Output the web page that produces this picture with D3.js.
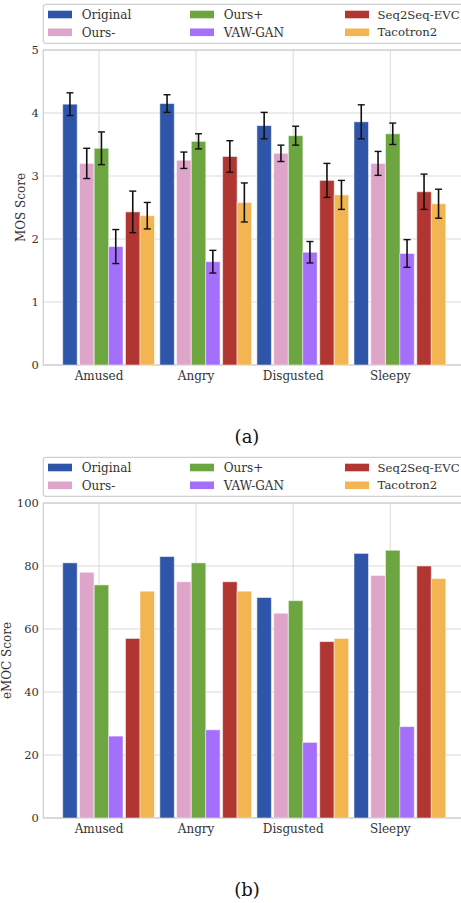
<!DOCTYPE html>
<html>
<head>
<meta charset="utf-8">
<script src="https://cdn.jsdelivr.net/npm/d3@7"></script>
<style>
  body { margin: 0; background: white; }
  svg { display: block; }
  text { font-family: "DejaVu Serif", serif; fill: #333; }
</style>
</head>
<body>
<div id="viz-container"></div>
<script>
let w = 461;
let h = 903;

// categories and systems
const categories = ["Amused", "Angry", "Disgusted", "Sleepy"];
const systems = ["Original", "Ours-", "Ours+", "VAW-GAN", "Seq2Seq-EVC", "Tacotron2"];
const colors = ["#2f55a8", "#dfa4c9", "#6da641", "#a46ffb", "#b13531", "#f2b551"];

// MOS means, one array per system (order = categories)
const mosOriginal = [4.14, 4.15, 3.80, 3.86];
const mosOursMinus = [3.20, 3.25, 3.36, 3.20];
const mosOursPlus = [3.44, 3.55, 3.64, 3.67];
const mosVawGan = [1.88, 1.64, 1.79, 1.77];
const mosSeq2Seq = [2.43, 3.31, 2.93, 2.75];
const mosTacotron = [2.37, 2.58, 2.70, 2.56];

// MOS error (half width of the bars)
const errOriginal = [0.18, 0.14, 0.21, 0.27];
const errOursMinus = [0.24, 0.13, 0.13, 0.19];
const errOursPlus = [0.26, 0.12, 0.15, 0.17];
const errVawGan = [0.27, 0.18, 0.17, 0.22];
const errSeq2Seq = [0.33, 0.25, 0.27, 0.28];
const errTacotron = [0.21, 0.31, 0.23, 0.23];

// eMOC scores
const emocOriginal = [81, 83, 70, 84];
const emocOursMinus = [78, 75, 65, 77];
const emocOursPlus = [74, 81, 69, 85];
const emocVawGan = [26, 28, 24, 29];
const emocSeq2Seq = [57, 75, 56, 80];
const emocTacotron = [72, 72, 57, 76];

const mosTicks = [0, 1, 2, 3, 4, 5];
const emocTicks = [0, 20, 40, 60, 80, 100];

const mosSeries = [mosOriginal, mosOursMinus, mosOursPlus, mosVawGan, mosSeq2Seq, mosTacotron];
const mosErrors = [errOriginal, errOursMinus, errOursPlus, errVawGan, errSeq2Seq, errTacotron];
const emocSeries = [emocOriginal, emocOursMinus, emocOursPlus, emocVawGan, emocSeq2Seq, emocTacotron];

// layout: bar offsets from category center (px) and bar width
let barOffsets = [-36.3, -19.5, -4.8, 9.5, 26.5, 41];
let barW = 14.5;

let viz = d3.select("#viz-container")
  .append("svg")
    .attr("width", w)
    .attr("height", h)
    .style("background-color", "white");

let x = d3.scalePoint()
  .domain(categories)
  .range([99, 390.3]);

function drawChart(top, series, errors, ticks, yMax, yLabel, yLabelX, caption){
  let g = viz.append("g").attr("transform", "translate(0," + top + ")");
  let left = 43.3, right = 475;
  let plotTop = 50, plotBottom = 365;

  let y = d3.scaleLinear().domain([0, yMax]).range([plotBottom, plotTop]);

  // grid
  g.selectAll(".ygrid").data(ticks).enter()
    .append("line")
      .attr("x1", left).attr("x2", right)
      .attr("y1", d => y(d)).attr("y2", d => y(d))
      .attr("stroke", "#d9d9d9").attr("stroke-width", 1);
  g.selectAll(".xgrid").data(categories).enter()
    .append("line")
      .attr("x1", d => x(d)).attr("x2", d => x(d))
      .attr("y1", plotTop).attr("y2", plotBottom)
      .attr("stroke", "#d9d9d9").attr("stroke-width", 1);

  // spines
  g.append("rect")
    .attr("x", left).attr("y", plotTop)
    .attr("width", right - left).attr("height", plotBottom - plotTop)
    .attr("fill", "none").attr("stroke", "#d0d0d0").attr("stroke-width", 1.3);

  // bars
  series.forEach(function(vals, s){
    let sg = g.append("g");
    sg.selectAll("rect").data(vals).enter()
      .append("rect")
        .attr("x", (d, i) => x(categories[i]) + barOffsets[s])
        .attr("y", d => y(d))
        .attr("width", barW)
        .attr("height", d => y(0) - y(d))
        .attr("fill", colors[s])
        .attr("stroke", "white")
        .attr("stroke-opacity", 0.5)
        .attr("stroke-width", 1);

    if (errors){
      let e = errors[s];
      let eg = sg.selectAll(".err").data(vals).enter().append("g");
      let cx = (d, i) => x(categories[i]) + barOffsets[s] + barW / 2;
      eg.append("line")
        .attr("x1", cx).attr("x2", cx)
        .attr("y1", (d, i) => y(d + e[i])).attr("y2", (d, i) => y(d - e[i]))
        .attr("stroke", "#111").attr("stroke-width", 1.6);
      eg.append("line")
        .attr("x1", (d, i) => cx(d, i) - 3.5).attr("x2", (d, i) => cx(d, i) + 3.5)
        .attr("y1", (d, i) => y(d + e[i])).attr("y2", (d, i) => y(d + e[i]))
        .attr("stroke", "#111").attr("stroke-width", 1.4);
      eg.append("line")
        .attr("x1", (d, i) => cx(d, i) - 3.5).attr("x2", (d, i) => cx(d, i) + 3.5)
        .attr("y1", (d, i) => y(d - e[i])).attr("y2", (d, i) => y(d - e[i]))
        .attr("stroke", "#111").attr("stroke-width", 1.4);
    }
  });

  // y ticks
  g.selectAll(".ytick").data(ticks).enter()
    .append("text")
      .attr("x", left - 4.5)
      .attr("y", d => y(d))
      .attr("dy", "0.35em")
      .attr("text-anchor", "end")
      .style("font-size", "11.5px")
      .text(d => d);

  // x ticks
  g.selectAll(".xtick").data(categories).enter()
    .append("text")
      .attr("x", d => x(d))
      .attr("y", plotBottom + 14.5)
      .attr("text-anchor", "middle")
      .style("font-size", "12px")
      .text(d => d);

  // y label
  g.append("text")
    .attr("transform", "translate(" + yLabelX + "," + ((plotTop + plotBottom) / 2) + ") rotate(-90)")
    .attr("dy", "0.35em")
    .attr("text-anchor", "middle")
    .style("font-size", "12px")
    .text(yLabel);

  // legend
  g.append("rect")
    .attr("x", left).attr("y", 4.3)
    .attr("width", 440).attr("height", 39)
    .attr("rx", 2.5)
    .attr("fill", "white").attr("stroke", "#d0d0d0").attr("stroke-width", 1.2);
  let colX = [48, 190, 345];
  let rowY = [14.5, 32.3];
  let items = g.selectAll(".legenditem").data(systems).enter()
    .append("g")
      .attr("transform", (d, i) => "translate(" + colX[Math.floor(i / 2)] + "," + rowY[i % 2] + ")");
  items.append("rect")
    .attr("x", 0).attr("y", -3.8)
    .attr("width", 24).attr("height", 7.6)
    .attr("fill", (d, i) => colors[i]);
  items.append("text")
    .attr("x", (d, i) => i >= 4 ? 32.5 : 33.7).attr("y", 0)
    .attr("dy", "0.35em")
    .style("font-size", (d, i) => i >= 4 ? "11.7px" : "12px")
    .text(d => d);

  // caption
  g.append("text")
    .attr("x", 247)
    .attr("y", 443)
    .attr("text-anchor", "middle")
    .style("font-size", "18px")
    .style("fill", "#111")
    .text(caption);
}

drawChart(0, mosSeries, mosErrors, mosTicks, 5, "MOS Score", 21, "(a)");
drawChart(453, emocSeries, null, emocTicks, 100, "eMOC Score", 7, "(b)");
</script>
</body>
</html>
